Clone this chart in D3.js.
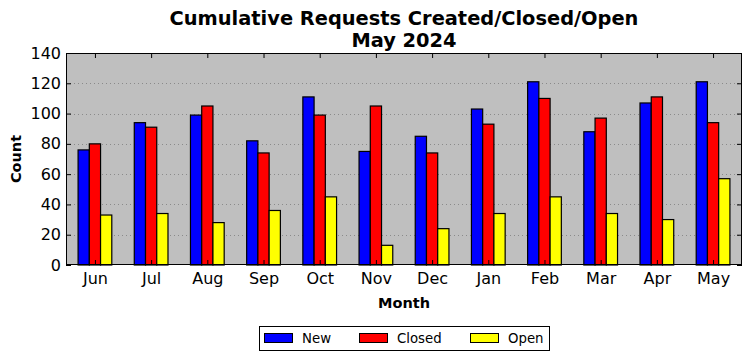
<!DOCTYPE html>
<html><head><meta charset="utf-8">
<script src="https://cdn.jsdelivr.net/npm/d3@7"></script>
<style>body{margin:0;background:#fff}svg{display:block}text{font-family:"DejaVu Sans",sans-serif}</style>
</head><body><svg id="c" width="752" height="361"></svg>
<script>
const months = ["Jun","Jul","Aug","Sep","Oct","Nov","Dec","Jan","Feb","Mar","Apr","May"];
const newVals = [76,94,99,82,111,75,85,103,121,88,107,121];
const closedVals = [80,91,105,74,99,105,74,93,110,97,111,94];
const openVals = [33,34,28,36,45,13,24,34,45,34,30,57];
const yTicks = [0,20,40,60,80,100,120,140];
const seriesNames = ["New","Closed","Open"];
const seriesColors = ["#0000ff","#ff0000","#ffff00"];
const series = [newVals, closedVals, openVals];

const svg = d3.select("#c");
const L=66, R=742, T=53, B=265;
const x = d3.scaleLinear().domain([-0.515, 11.515]).range([L,R]);
const y = d3.scaleLinear().domain([0,140]).range([B,T]);
const bw = 0.2;

svg.append("rect").attr("x",L).attr("y",T).attr("width",R-L).attr("height",B-T).attr("fill","#bfbfbf");
// grid
svg.append("g").selectAll("line").data(yTicks.slice(1,-1)).join("line")
  .attr("x1",L).attr("x2",R).attr("y1",d=>Math.round(y(d))+0.5).attr("y2",d=>Math.round(y(d))+0.5)
  .attr("stroke","#8a8a8a").attr("stroke-dasharray","1,3").attr("stroke-width",1);

// bars
series.forEach((vals,si)=>{
  svg.append("g").selectAll("rect").data(vals).join("rect")
    .attr("x",(d,i)=>x(i+(si-1)*bw-bw/2))
    .attr("width",x(bw)-x(0))
    .attr("y",d=>y(d))
    .attr("height",d=>y(0)-y(d))
    .attr("fill",seriesColors[si]).attr("stroke","#000").attr("stroke-width",1.2);
});

// frame
svg.append("rect").attr("x",L+0.5).attr("y",T+0.5).attr("width",R-L-1).attr("height",B-T-1)
  .attr("fill","none").attr("stroke","#000").attr("stroke-width",1);

// axes
const xb = d3.axisBottom(x).tickValues(d3.range(12)).tickFormat(i=>months[i]).tickSizeInner(-5).tickSizeOuter(0).tickPadding(8);
const gx = svg.append("g").attr("transform",`translate(0,${B})`).call(xb);
const xt = d3.axisTop(x).tickValues(d3.range(12)).tickFormat("").tickSizeInner(-5).tickSizeOuter(0);
const gxt = svg.append("g").attr("transform",`translate(0,${T})`).call(xt);
const yl = d3.axisLeft(y).tickValues(yTicks).tickSizeInner(-5).tickSizeOuter(0).tickPadding(5);
const gy = svg.append("g").attr("transform",`translate(${L},0)`).call(yl);
const yr = d3.axisRight(y).tickValues(yTicks).tickFormat("").tickSizeInner(-5).tickSizeOuter(0);
const gyr = svg.append("g").attr("transform",`translate(${R},0)`).call(yr);
[gx,gxt,gy,gyr].forEach(g=>{g.select(".domain").remove();g.selectAll("line").attr("stroke","#000");
  g.selectAll("text").attr("font-size",16).attr("font-family","DejaVu Sans").attr("fill","#000");});

// titles
svg.append("text").attr("x",404).attr("y",25).attr("text-anchor","middle").attr("font-size",19.4).attr("font-weight","bold").text("Cumulative Requests Created/Closed/Open");
svg.append("text").attr("x",404).attr("y",47).attr("text-anchor","middle").attr("font-size",19.4).attr("font-weight","bold").text("May 2024");
svg.append("text").attr("x",404).attr("y",308).attr("text-anchor","middle").attr("font-size",14.5).attr("font-weight","bold").text("Month");
svg.append("text").attr("transform","translate(21,159) rotate(-90)").attr("text-anchor","middle").attr("font-size",14.5).attr("font-weight","bold").text("Count");

// legend
const lg = svg.append("g");
lg.append("rect").attr("x",259.5).attr("y",326.5).attr("width",290).attr("height",24).attr("fill","#fff").attr("stroke","#000");
const lx=[264,359,470];
seriesNames.forEach((n,i)=>{
  lg.append("rect").attr("x",lx[i]+0.5).attr("y",333.5).attr("width",28).attr("height",9).attr("fill",seriesColors[i]).attr("stroke","#000");
  lg.append("text").attr("x",lx[i]+38).attr("y",343).attr("font-size",13.3).text(n);
});
</script></body></html>
